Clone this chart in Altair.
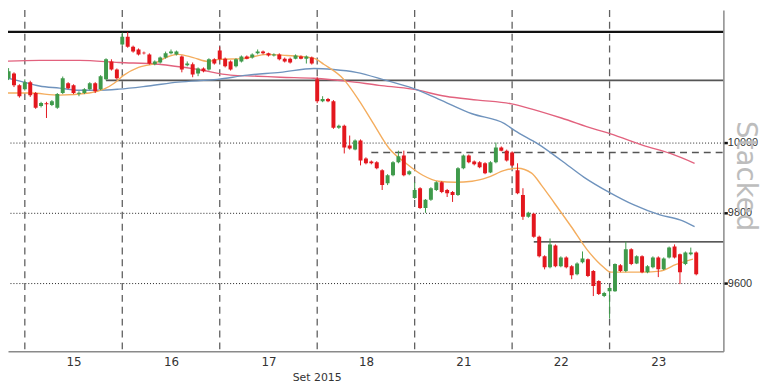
import altair as alt
import pandas as pd

# ---------------- data ----------------
day_labels = ["15", "16", "17", "18", "21", "22", "23"]
day_starts = [0, 18, 36, 54, 72, 90, 108]          # first bar of each session
label_pos = [9, 27, 45, 63, 81, 99, 117]           # bar at the middle of each session

# OHLC, one entry per 30-min bar, starting with the last 4 bars of 14 Sep
o = [10113, 10183, 10197, 10163,
     10152, 10172, 10141, 10104, 10112, 10107, 10099, 10141, 10169, 10163, 10139, 10141, 10152, 10169, 10152, 10180, 10231, 10208,
     10279, 10301, 10273, 10265, 10256, 10251, 10223, 10228, 10242, 10254, 10251, 10245, 10220, 10223, 10197, 10211, 10208, 10237,
     10262, 10239, 10231, 10217, 10231, 10245, 10242, 10254, 10259, 10254, 10248, 10251, 10239, 10239, 10239, 10245, 10239, 10242,
     10180, 10118, 10124, 10118, 10042, 10048, 9992, 9980, 10006, 9955, 9946, 9944, 9921, 9884, 9907, 9944, 9963, 9910,
     9842, 9870, 9814, 9837, 9865, 9887, 9865, 9859, 9851, 9927, 9963, 9946, 9944, 9941, 9915, 9944, 9986, 9977,
     9972, 9921, 9851, 9789, 9797, 9732, 9676, 9645, 9707, 9648, 9673, 9648, 9625, 9659, 9668, 9634, 9606, 9563,
     9577, 9577, 9651, 9634, 9696, 9656, 9676, 9631, 9645, 9673, 9639, 9673, 9704, 9682, 9654, 9682, 9687]
h = [10172, 10212, 10200, 10166,
     10180, 10176, 10144, 10116, 10116, 10121, 10141, 10188, 10172, 10166, 10146, 10155, 10172, 10172, 10192, 10240, 10237, 10211,
     10313, 10315, 10276, 10268, 10259, 10254, 10234, 10245, 10259, 10265, 10262, 10248, 10231, 10228, 10214, 10214, 10240, 10240,
     10273, 10242, 10234, 10240, 10248, 10248, 10254, 10265, 10262, 10256, 10254, 10254, 10242, 10242, 10251, 10248, 10248, 10245,
     10186, 10132, 10127, 10121, 10051, 10051, 10020, 10009, 10009, 9958, 9949, 9947, 9924, 9910, 9947, 9977, 9977, 9921,
     9887, 9873, 9839, 9873, 9890, 9890, 9868, 9862, 9930, 9966, 9966, 9949, 9947, 9944, 9947, 10000, 9989, 9980,
     9975, 9941, 9870, 9803, 9800, 9735, 9679, 9727, 9710, 9676, 9676, 9651, 9659, 9690, 9670, 9637, 9608, 9575,
     9589, 9656, 9654, 9718, 9699, 9679, 9679, 9651, 9676, 9676, 9673, 9704, 9710, 9684, 9690, 9701, 9690]
l = [10105, 10178, 10158, 10128,
     10148, 10130, 10096, 10100, 10070, 10104, 10096, 10138, 10152, 10138, 10132, 10138, 10149, 10141, 10149, 10177, 10205, 10180,
     10276, 10270, 10256, 10248, 10251, 10222, 10220, 10225, 10239, 10251, 10248, 10200, 10217, 10186, 10189, 10200, 10205, 10222,
     10234, 10214, 10205, 10214, 10228, 10237, 10239, 10251, 10251, 10245, 10245, 10234, 10228, 10225, 10237, 10237, 10225, 10222,
     10112, 10115, 10115, 10039, 10039, 9969, 9980, 9978, 9935, 9938, 9938, 9924, 9865, 9879, 9904, 9941, 9904, 9907,
     9839, 9811, 9800, 9834, 9862, 9856, 9845, 9831, 9848, 9924, 9941, 9935, 9927, 9910, 9913, 9941, 9975, 9946,
     9932, 9853, 9780, 9786, 9729, 9673, 9639, 9642, 9645, 9645, 9642, 9611, 9622, 9656, 9617, 9563, 9566, 9560,
     9499, 9575, 9631, 9631, 9651, 9654, 9628, 9628, 9642, 9617, 9637, 9670, 9670, 9597, 9651, 9679, 9622]
c = [10166, 10203, 10163, 10132,
     10172, 10135, 10099, 10113, 10109, 10118, 10138, 10183, 10155, 10141, 10142, 10152, 10169, 10146, 10189, 10237, 10208, 10183,
     10301, 10273, 10259, 10251, 10254, 10225, 10231, 10242, 10254, 10259, 10259, 10208, 10225, 10194, 10211, 10203, 10237, 10225,
     10237, 10217, 10208, 10237, 10245, 10239, 10251, 10259, 10254, 10248, 10251, 10237, 10231, 10228, 10248, 10239, 10245, 10225,
     10118, 10124, 10118, 10042, 10048, 9986, 9983, 10006, 9949, 9941, 9941, 9927, 9879, 9907, 9944, 9961, 9907, 9918,
     9865, 9814, 9837, 9870, 9887, 9859, 9856, 9851, 9927, 9963, 9944, 9938, 9930, 9913, 9944, 9986, 9977, 9949,
     9935, 9856, 9789, 9800, 9732, 9676, 9645, 9710, 9648, 9673, 9645, 9622, 9656, 9670, 9620, 9592, 9569, 9572,
     9586, 9654, 9634, 9696, 9654, 9676, 9631, 9648, 9673, 9639, 9670, 9701, 9673, 9631, 9687, 9687, 9625]

# moving averages (bar position, value)
ma_fast_x = [-4.6, 0.9, 6.4, 11.9, 14.6, 16.5, 18.3, 21.0, 23.9, 26.5, 28.3, 31.1, 33.8, 36.0, 40.2, 44.8, 48.4, 51.2,
             53.6, 55.2, 58.9, 61.8, 64.3, 67.3, 70.4, 73.5, 76.4, 79.5, 82.6, 85.5, 88.6, 91.0, 93.6, 95.4, 97.8,
             100.9, 103.8, 106.9, 108.2, 110.6, 114.2, 117.3, 120.3, 123.4]
ma_fast_y = [10141, 10141, 10135, 10141, 10152, 10169, 10192, 10214, 10225, 10245, 10251, 10242, 10231, 10237, 10239,
             10251, 10248, 10245, 10239, 10223, 10180, 10118, 10056, 9983, 9941, 9907, 9890, 9887, 9890, 9901, 9921,
             9927, 9913, 9879, 9828, 9761, 9696, 9645, 9631, 9631, 9631, 9634, 9653, 9668]
ma_mid_x = [-4.6, -0.9, 2.7, 6.4, 10.1, 13.7, 17.4, 22.8, 28.3, 35.6, 41.1, 47.2, 53.4, 57.0, 61.2, 66.7, 71.6, 76.4,
            82.6, 88.6, 90.5, 94.7, 99.1, 103.3, 108.2, 112.4, 117.3, 121.0, 123.7]
ma_mid_y = [10189, 10175, 10161, 10155, 10149, 10149, 10152, 10161, 10172, 10180, 10192, 10200, 10211, 10208, 10200,
            10177, 10155, 10124, 10082, 10054, 10034, 9997, 9949, 9901, 9856, 9823, 9794, 9780, 9761]
ma_slow_x = [-4.6, 2.7, 10.1, 17.4, 24.7, 32.0, 38.0, 43.0, 47.2, 53.4, 59.4, 65.4, 71.6, 77.7, 83.7, 89.9, 92.8,
             99.1, 105.1, 108.2, 114.2, 119.2, 123.7]
ma_slow_y = [10231, 10234, 10234, 10228, 10223, 10208, 10192, 10189, 10186, 10183, 10175, 10163, 10152, 10132, 10121,
             10110, 10099, 10070, 10039, 10025, 9992, 9969, 9941]

# support / resistance levels
lvl_value = [10315, 10177, 9972, 9717]
lvl_from = [-4.6, 15, 64, 94]

# ---------------- chart ----------------
X0, X1 = -3.107, 129.02
Y0, Y1 = 9405.6, 10377.5
xs = alt.Scale(domain=[X0, X1], nice=False, zero=False, padding=0)
ys = alt.Scale(domain=[Y0, Y1], nice=False, zero=False, padding=0)

GREEN, RED = "#3f9a4b", "#e3171e"

n = len(o)
df = pd.DataFrame({"bar": list(range(-4, -4 + n)), "open": o, "high": h, "low": l, "close": c})
df["dir"] = ["up" if cc >= oo else "down" for oo, cc in zip(o, c)]
color = alt.Color("dir:N", scale=alt.Scale(domain=["up", "down"], range=[GREEN, RED]), legend=None)

label_expr = " : ".join(f"datum.value == {p} ? '{t}'" for p, t in zip(label_pos, day_labels)) + " : ''"

x_axis = alt.Axis(values=label_pos, labelExpr=label_expr, grid=False, ticks=False,
                  domainColor="#8a8a8a", domainWidth=1.5, labelFontSize=12, labelColor="#333",
                  labelFont="DejaVu Sans", labelPadding=5,
                  title="Set 2015", titleFont="DejaVu Sans", titleFontSize=11, titleFontWeight="normal",
                  titleColor="#333", titleX=312, titleY=20, titleBaseline="top", titleAlign="center")
y_axis = alt.Axis(orient="right", values=[9600, 9800, 10000], format="d", grid=True, gridDash=[1, 2],
                  gridColor="#222", gridWidth=1, domainColor="#8a8a8a", domainWidth=1.5, tickColor="#111",
                  tickSize=4, tickWidth=2.5, labelFontSize=11, labelColor="#333", labelFont="Liberation Sans",
                  labelPadding=0, title=None)

def X(field):
    return alt.X(field, scale=xs, axis=x_axis)

def Y(field):
    return alt.Y(field, scale=ys, axis=y_axis)

days_df = pd.DataFrame({"pos": day_starts})
vlines = alt.Chart(days_df).mark_rule(color="#606060", strokeDash=[7, 5], strokeWidth=1.3).encode(
    x=X("pos:Q")
)

lv = pd.DataFrame({"v": lvl_value, "x1": lvl_from, "x2": [X1] * len(lvl_value)})
def level(i, **kw):
    return alt.Chart(lv.iloc[[i]]).mark_rule(clip=True, **kw).encode(
        x=X("x1:Q"), x2="x2:Q", y=Y("v:Q"))

lv_top = level(0, color="#111", strokeWidth=2.2)
lv_mid = level(1, color="#555", strokeWidth=1.6)
lv_dash = level(2, color="#555", strokeWidth=1.5, strokeDash=[7, 5])
lv_low = level(3, color="#222", strokeWidth=1.3)

def ma(xv, yv, col):
    d = pd.DataFrame({"x": xv, "y": yv})
    return alt.Chart(d).mark_line(color=col, strokeWidth=1.4, interpolate="monotone", clip=True).encode(
        x=X("x:Q"), y=Y("y:Q"))

ma_slow = ma(ma_slow_x, ma_slow_y, "#e2627e")
ma_mid = ma(ma_mid_x, ma_mid_y, "#6f93bd")
ma_fast = ma(ma_fast_x, ma_fast_y, "#f4ad5e")

base = alt.Chart(df).encode(x=X("bar:Q"), color=color)
wicks = base.mark_rule(strokeWidth=1, clip=True).encode(y=Y("low:Q"), y2="high:Q")
bodies = base.mark_bar(size=4, clip=True).encode(y=Y("open:Q"), y2="close:Q")

mark_df = pd.DataFrame({"t": ["Stacked"]})
watermark = alt.Chart(mark_df).mark_text(angle=90, fontSize=28, color="#bdbdbd", font="DejaVu Sans").encode(
    text="t:N", x=alt.value(745), y=alt.value(168))

chart = alt.layer(watermark, vlines, lv_top, lv_mid, lv_dash, lv_low, ma_slow, ma_mid, ma_fast, wicks, bodies).properties(
    width=723, height=345,
    autosize=alt.AutoSizeParams(type="none"),
    padding={"left": 0, "top": 0, "right": 37, "bottom": 31},
).configure_view(stroke=None)

chart.save("out.html", embed_options={"renderer": "svg", "actions": False})
